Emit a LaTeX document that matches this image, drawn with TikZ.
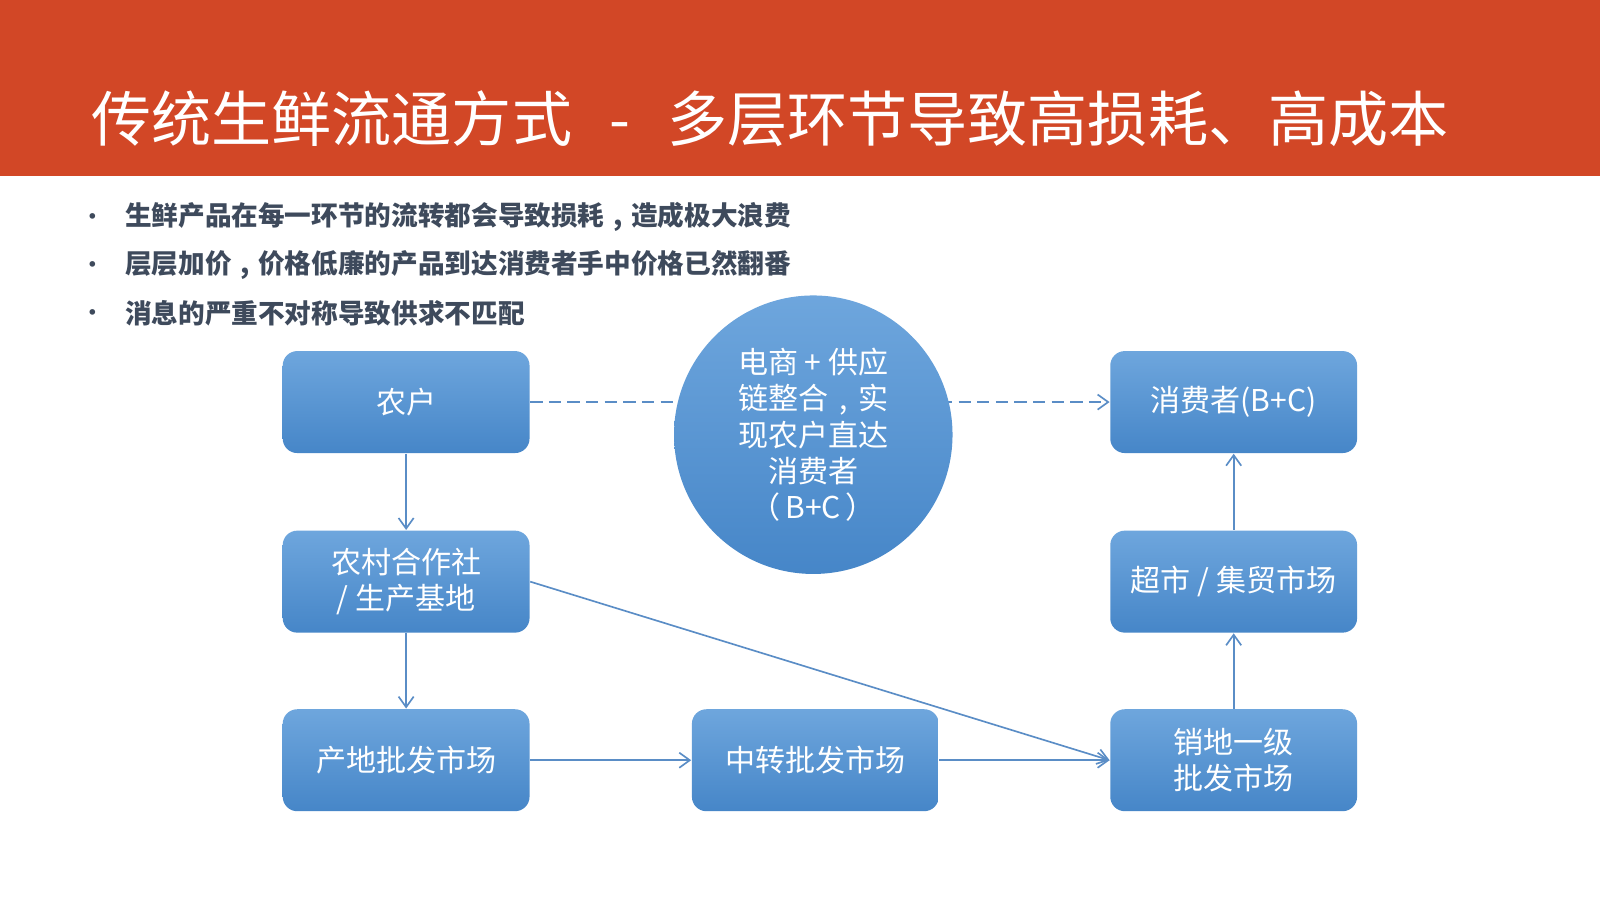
\documentclass[tikz,border=0pt]{standalone}
\usepackage{fontspec}
\setmainfont{Noto Sans CJK SC}
\usetikzlibrary{arrows.meta,shapes.geometric}
\definecolor{hdr}{HTML}{D24726}
\definecolor{bul}{HTML}{3E4A5C}
\definecolor{btop}{HTML}{6EA6DD}
\definecolor{bbot}{HTML}{4686C8}
\definecolor{ln}{HTML}{5A8DC6}
\newcommand{\cmid}{\makebox[1em][c]{,}}
\begin{document}
\begin{tikzpicture}[x=0.0102041cm,y=-0.0102041cm,
  flowbox/.style={rectangle, rounded corners=0.145cm, minimum width=2.469cm, minimum height=1.02cm,
    top color=btop, bottom color=bbot, text=white, font=\fontsize{8.55}{10.3}\selectfont,
    align=center, inner sep=0pt},
  flow/.style={draw=ln, line width=0.47pt, -{Straight Barb[length=3pt,width=4.3pt]}},
  btxt/.style={anchor=west, text=bul, font=\fontsize{7.58}{9}\selectfont\bfseries, inner sep=0pt},
  bdot/.style={text=bul, font=\fontsize{7.58}{9}\selectfont, inner sep=0pt}]
\useasboundingbox (0,0) rectangle (1568,882);
\fill[white] (0,0) rectangle (1568,882);
\fill[hdr] (0,0) rectangle (1568,172);
\node[anchor=west, text=white, inner sep=0pt, font=\fontsize{17.1}{20}\selectfont] (title) at (89,116)
  {传统生鲜流通方式\hspace{0.62em}-\hspace{0.62em}多层环节导致高损耗、高成本};
\node[bdot] (d1) at (91,216) {•};
\node[bdot] (d2) at (91,263) {•};
\node[bdot] (d3) at (91,310) {•};
\node[btxt] (b1) at (122,213) {生鲜产品在每一环节的流转都会导致损耗\cmid 造成极大浪费};
\node[btxt] (b2) at (122,260) {层层加价\cmid 价格低廉的产品到达消费者手中价格已然翻番};
\node[btxt] (b3) at (122,307) {消息的严重不对称导致供求不匹配};
\node[flowbox] (nh) at (398,394) {农户};
\node[flowbox] (hz) at (398,570) {农村合作社\\/ 生产基地};
\node[flowbox] (cd) at (398,745) {产地批发市场};
\node[flowbox] (zz) at (799,745) {中转批发市场};
\node[flowbox] (xd) at (1209,745) {销地一级\\批发市场};
\node[flowbox] (cs) at (1209,570) {超市 / 集贸市场};
\node[flowbox] (xf) at (1209,394) {消费者(B+C)};
\draw[flow, dash pattern=on 3.5pt off 1.8pt] (nh.east) -- (xf.west);
\node[circle, minimum size=2.786cm, inner sep=0pt, top color=btop, bottom color=bbot, text=white,
  font=\fontsize{8.55}{10.3}\selectfont, align=center] (ec) at (797,426)
  {电商 + 供应\\链整合\cmid 实\\现农户直达\\消费者\\（\hspace{0.15em}B+C\hspace{0.15em}）};
\draw[flow] (nh.south) -- (hz.north);
\draw[flow] (hz.south) -- (cd.north);
\draw[flow] (cd.east) -- (zz.west);
\draw[flow] (zz.east) -- (xd.west);
\draw[flow] (hz.east) -- (xd.west);
\draw[flow] (xd.north) -- (cs.south);
\draw[flow] (cs.north) -- (xf.south);
\end{tikzpicture}
\end{document}
